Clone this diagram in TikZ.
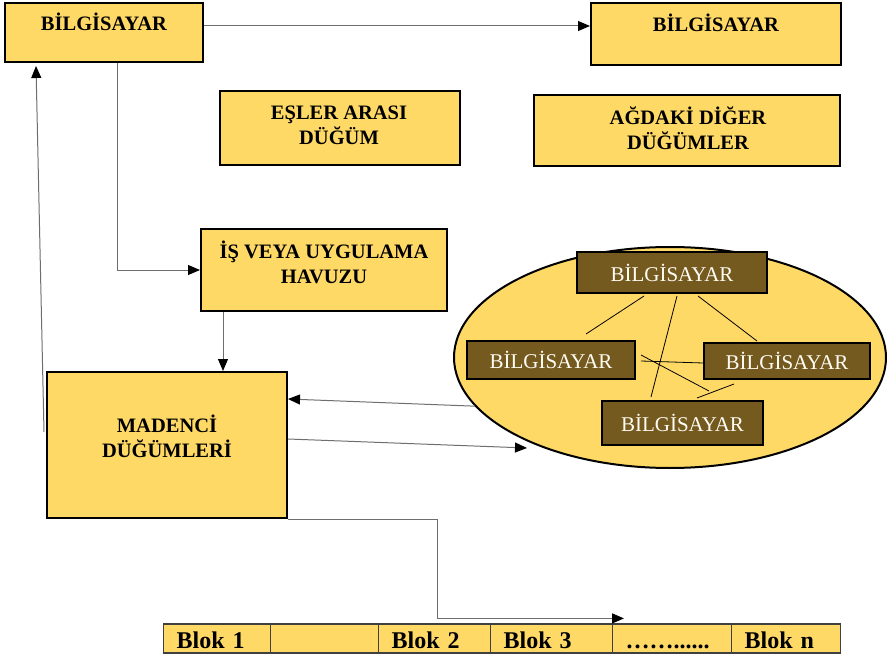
\documentclass[tikz,border=0pt]{standalone}
\usepackage{fontspec}
\setmainfont{Liberation Serif}
\usetikzlibrary{arrows.meta,calc,shapes.geometric}
\definecolor{gold}{HTML}{FFD966}
\definecolor{bark}{HTML}{755A20}
\definecolor{wire}{HTML}{6E6E6E}
\tikzset{
  panel/.style={draw=black,line width=2pt,fill=gold,inner sep=0pt},
  paneltext/.style={font=\bfseries\fontsize{20.5}{25}\selectfont,align=center,inner sep=0pt},
  pcbox/.style={draw=black,line width=2pt,fill=bark,text=white!92!gold,font=\fontsize{21}{24}\selectfont,inner sep=0pt},
  cell/.style={draw=black!75,line width=1.2pt,fill=gold,anchor=west,minimum height=29pt,inner xsep=13pt,inner ysep=0pt,
    align=left,text height=19pt,text depth=0pt,font=\bfseries\fontsize{24}{28}\selectfont},
  flow/.style={draw=wire,line width=1pt,-{Triangle[color=black,length=12pt,width=10pt]}},
  link/.style={draw=black,line width=0.8pt}
}

\begin{document}
\begin{tikzpicture}[x=1pt,y=-1pt]
  \useasboundingbox (0,0) rectangle (887,658);
  % yellow boxes
  \node[panel,minimum width=198pt,minimum height=59pt] (pc1) at (104,32.5) {};
  \node[paneltext,anchor=base] (pc1t) at (104,31) {BİLGİSAYAR};
  \node[panel,minimum width=250pt,minimum height=62pt] (pc2) at (716,34) {};
  \node[paneltext,anchor=base] (pc2t) at (716,32) {BİLGİSAYAR};
  \node[panel,minimum width=240pt,minimum height=74pt] (peer) at (340,128) {};
  \node[paneltext] (peert) at (339,124.9) {EŞLER ARASI\\DÜĞÜM};
  \node[panel,minimum width=306pt,minimum height=71pt] (others) at (687,130.5) {};
  \node[paneltext] (otherst) at (688,128) {AĞDAKİ DİĞER\\DÜĞÜMLER};
  \node[panel,minimum width=246pt,minimum height=82pt] (pool) at (324,270) {};
  \node[paneltext] (poolt) at (324,262) {İŞ VEYA UYGULAMA\\HAVUZU};
  \node[panel,minimum width=240pt,minimum height=146pt] (miner) at (167,445) {};
  \node[paneltext] (minert) at (167,436) {MADENCİ\\DÜĞÜMLERİ};

  % network ellipse
  \node[draw=black,line width=2pt,fill=gold,ellipse,minimum width=432pt,minimum height=221pt,inner sep=0pt] (net) at (670,357.5) {};
  \node[pcbox,minimum width=190pt,minimum height=41pt] (net1) at (672,272.5) {BİLGİSAYAR};
  \node[pcbox,minimum width=168pt,minimum height=38pt] (net2) at (551,360) {BİLGİSAYAR};
  \node[pcbox,minimum width=166pt,minimum height=36pt] (net3) at (787,361) {BİLGİSAYAR};
  \node[pcbox,minimum width=161pt,minimum height=44pt] (net4) at (682.5,423) {BİLGİSAYAR};
  \draw[link] ($(net1.south west)+(68,2)$) -- ($(net2.north west)+(120,-6)$);
  \draw[link] ($(net1.south)+(5,2)$) -- ($(net4.north west)+(50,-3)$);
  \draw[link] ($(net1.south)+(26,2)$) -- ($(net3.north west)+(54,-1)$);
  \draw[link] ($(net2.east)+(5,1)$) -- ($(net3.west)+(0,2)$);
  \draw[link] ($(net2.east)+(5,-5)$) -- ($(net4.north west)+(108,-9)$);
  \draw[link] ($(net3.south west)+(31,4)$) -- ($(net4.north west)+(96,-2)$);

  % block chain
  \foreach \x/\w/\t [count=\i] in {163/107/Blok 1,270/108/,378/112/Blok 2,490/122/Blok 3,612/119/{……......},731/109/Blok n}{
    \pgfmathsetmacro\tw{\w-26}
    \node[cell,text width=\tw pt] (blk\i) at (\x,638.5) {\t};
  }

  % connectors
  \coordinate (minerleft) at (44,432);
  \coordinate (netdock) at (527,448);
  \draw[flow] ([yshift=6.5pt]pc1.east) -- ([yshift=8pt]pc2.west);
  \draw[flow] ([xshift=13pt]pc1.south) |- (pool.west);
  \draw[flow] ([xshift=23pt]pool.south west) -- ([xshift=23pt]pool.south west |- miner.north);
  \draw[flow] (net.194) -- ([yshift=46pt]miner.east);
  \draw[flow] ([yshift=6pt]miner.east) -- (netdock);
  \draw[flow] (minerleft) -- ($(pc1.south west)+(32,3)$);
  \draw[flow] (miner.south east) -- ++(149,0) |- ($(blk5.north west)+(12,-5)$);
\end{tikzpicture}
\end{document}
